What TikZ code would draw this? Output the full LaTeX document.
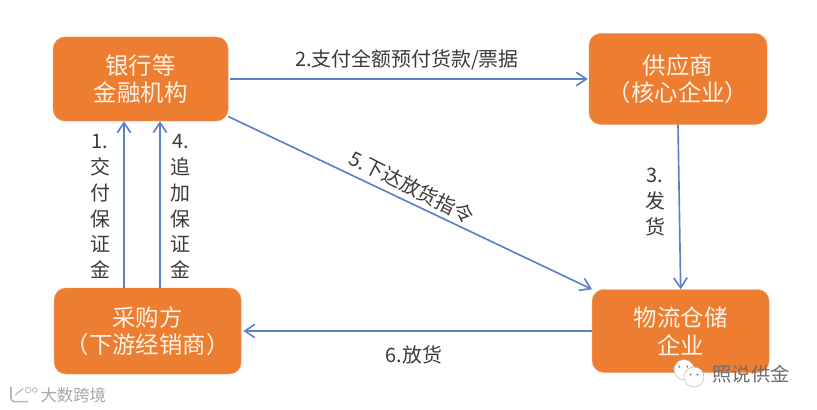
\documentclass[tikz,border=0pt]{standalone}
\usepackage{fontspec}
\setmainfont{Noto Sans CJK SC}
\usepackage{tikz}
\usetikzlibrary{arrows.meta,positioning,calc}
\definecolor{boxorange}{HTML}{ED7D31}
\definecolor{flowblue}{HTML}{5B80C4}
\definecolor{labelgray}{HTML}{3A3A3A}
\tikzset{
  partybox/.style={
    draw=boxorange!75,
    fill=boxorange,
    rounded corners=10pt,
    align=center,
    text=white!90!orange,
    inner sep=0pt,
    font=\fontsize{20}{23.5}\selectfont
  },
  flowline/.style={-{Straight Barb[length=3mm,width=4mm]},line width=1.4pt,draw=flowblue},
  flowlabel/.style={
    align=center,
    text=labelgray,
    inner sep=0pt,
    font=\fontsize{17}{22}\selectfont
  },
  marktext/.style={inner sep=0pt,text=gray!70,font=\fontsize{14}{16}\selectfont},
  bubble/.style={circle,draw=gray!50,fill=white,inner sep=0pt,line width=0.5pt,minimum size=0.6cm},
  chateye/.style={circle,fill=gray!80!black,inner sep=0pt,minimum size=0.06cm}
}
\begin{document}
\begin{tikzpicture}
  \useasboundingbox (0,0) rectangle (24.51,-12.3);
  \node[partybox,minimum width=5.25cm,minimum height=2.52cm] (bank) at (4.22,-2.37) {银行等\\金融机构};
  \node[partybox,minimum width=5.34cm,minimum height=2.73cm] (supplier) at (20.34,-2.37) {供应商\\（核心企业）};
  \node[partybox,minimum width=5.61cm,minimum height=2.58cm] (buyer) at (4.43,-9.93) {采购方\\（下游经销商）};
  \node[partybox,minimum width=5.31cm,minimum height=2.49cm] (storage) at (20.42,-9.93) {物流仓储\\企业};
  \draw[flowline] ([xshift=-0.71cm]buyer.north) -- ([xshift=-0.5cm]bank.south);
  \draw[flowline] ([xshift=0.37cm]buyer.north) -- ([xshift=0.58cm]bank.south);
  \draw[flowline] ([xshift=0.06cm]bank.east) -- ([xshift=-0.03cm]supplier.west);
  \draw[flowline] (supplier.south) -- ([xshift=0cm]storage.north);
  \coordinate (bankout) at ([yshift=0.14cm]bank.south east);
  \draw[flowline] (bankout) -- (storage.north west);
  \draw[flowline] (storage.west) -- ([xshift=0.06cm]buyer.east);
  \node[flowlabel] (paylabel) at (12.21,-1.8) {2.支付全额预付货款/票据};
  \node[flowlabel,rotate=-27] (releaselabel) at (12.36,-5.62) {5.下达放货指令};
  \node[flowlabel] (shiplabel) at (12.42,-10.65) {6.放货};
  \node[flowlabel] (marginlabel) at (3.0,-6.2) {1.\\交\\付\\保\\证\\金};
  \node[flowlabel] (toplabel) at (5.42,-6.2) {4.\\追\\加\\保\\证\\金};
  \node[flowlabel] (sendlabel) at (19.65,-6.07) {3.\\发\\货};
  % watermarks
  \node[marktext] (leftmark) at (2.2,-11.85) {大数跨境};
  \node[marktext,text=gray!85!black,font=\fontsize{16.5}{18}\selectfont] (rightmark) at (22.53,-11.22) {照说供金};
  \node[bubble] (chatback) at (20.52,-11.09) {};
  \node[bubble] (chatfront) at (20.82,-11.31) {};
  \node[chateye] (eyea) at (20.38,-11.0) {};
  \node[chateye] (eyeb) at (20.62,-11.0) {};
  \node[chateye] (eyec) at (20.72,-11.24) {};
  \node[chateye] (eyed) at (20.92,-11.24) {};
  \node[draw=gray!60,circle,minimum size=0.17cm,inner sep=0pt,line width=0.6pt] (logoring) at (0.85,-11.7) {};
  \node[draw=gray!60,circle,minimum size=0.14cm,inner sep=0pt,line width=0.6pt,right=0.02cm of logoring] (logodot) {};
  \draw[gray!55,line width=1.4pt,rounded corners=3pt] (0.33,-11.6) -- (0.33,-12.05) -- (0.85,-12.05);
  \draw[gray!55,line width=1pt] (0.45,-11.85) -- (0.7,-11.65);
\end{tikzpicture}
\end{document}
